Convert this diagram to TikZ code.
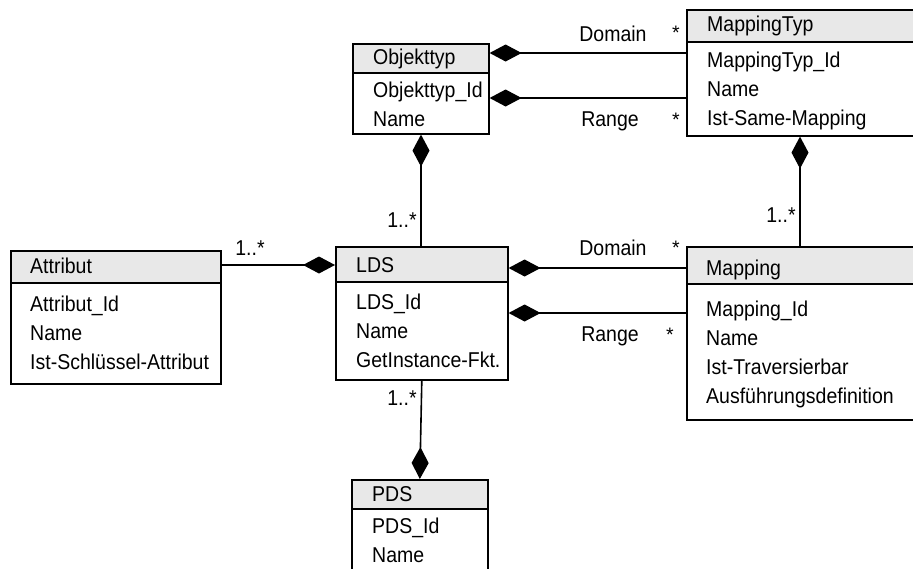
\documentclass[tikz,border=0pt]{standalone}
\usepackage{fontspec}
\usepackage{graphicx}
\setmainfont{Liberation Sans}
\usetikzlibrary{arrows.meta,calc}
\newcommand\tall[1]{\scalebox{1}[1.1]{#1}}
\begin{document}
\begin{tikzpicture}[x=1pt,y=-1pt,
  txt/.style={font=\fontsize{19.5}{22}\selectfont, inner sep=0pt, anchor=base west},
  lbl/.style={font=\fontsize{19.5}{22}\selectfont, inner sep=0pt},
  cls/.style={draw, line width=1.6pt, anchor=north west, inner sep=0pt},
  hdr/.style={fill=black!9},
  link/.style={line width=1.6pt},
  comp/.style={link, -{Diamond[length=32pt,width=17pt]}}
]
\path[use as bounding box, clip] (0,0) rectangle (913,568);
\fill[white] (0,0) rectangle (913,568);

% class box: header fill, outline, header divider
\newcommand\classbox[6]{% name, x, y, w, h, header height
  \fill[hdr] (#2,#3) rectangle ++(#4,#6);
  \node[cls, minimum width=#4pt, minimum height=#5pt] (#1) at (#2,#3) {};
  \draw[line width=1.6pt] (#2,#3+#6) -- ++(#4,0);
}

\classbox{obj}{352}{43}{136}{90}{30}
\classbox{mtyp}{686}{9}{240}{126}{33}
\classbox{attr}{10}{250}{210}{133}{33}
\classbox{lds}{335}{246}{172}{133}{36}
\classbox{map}{686}{246}{240}{173}{38}
\classbox{pds}{351}{479}{136}{110}{30}

% class texts
\node[txt] (objT) at (373,64) {\tall{Objekttyp}};
\node[txt] (objA) at (373,97) {\tall{Objekttyp\_Id}};
\node[txt] (objB) at (373,126) {\tall{Name}};

\node[txt] (mtypT) at (707,31) {\tall{MappingTyp}};
\node[txt] (mtypA) at (707,67) {\tall{MappingTyp\_Id}};
\node[txt] (mtypB) at (707,96) {\tall{Name}};
\node[txt] (mtypC) at (707,125) {\tall{Ist-Same-Mapping}};

\node[txt] (attrT) at (30,273) {\tall{Attribut}};
\node[txt] (attrA) at (30,311) {\tall{Attribut\_Id}};
\node[txt] (attrB) at (30,340) {\tall{Name}};
\node[txt] (attrC) at (30,369) {\tall{Ist-Schlüssel-Attribut}};

\node[txt] (ldsT) at (356,272) {\tall{LDS}};
\node[txt] (ldsA) at (356,309) {\tall{LDS\_Id}};
\node[txt] (ldsB) at (356,338) {\tall{Name}};
\node[txt] (ldsC) at (356,367) {\tall{GetInstance-Fkt.}};

\node[txt] (mapT) at (706,275) {\tall{Mapping}};
\node[txt] (mapA) at (706,316) {\tall{Mapping\_Id}};
\node[txt] (mapB) at (706,345) {\tall{Name}};
\node[txt] (mapC) at (706,374) {\tall{Ist-Traversierbar}};
\node[txt] (mapD) at (706,403) {\tall{Ausführungsdefinition}};

\node[txt] (pdsT) at (372,501) {\tall{PDS}};
\node[txt] (pdsA) at (372,533) {\tall{PDS\_Id}};
\node[txt] (pdsB) at (372,562) {\tall{Name}};

% compositions
\draw[comp] (mtyp.west |- 0,53) -- (obj.east |- 0,53);
\draw[comp] (mtyp.west |- 0,98) -- (obj.east |- 0,98);
\draw[comp] (lds.north -| 421,0) -- (obj.south -| 421,0);
\draw[comp] (map.north -| 800,0) -- (mtyp.south -| 800,0);
\draw[comp] (attr.east |- 0,265) -- (lds.west |- 0,265);
\draw[comp] (map.west |- 0,268) -- (lds.east |- 0,268);
\draw[comp] (map.west |- 0,313) -- (lds.east |- 0,313);
\draw[comp] (lds.south) -- (pds.north);

% role names and multiplicities
\node[lbl] (d1) at (613,34) {\tall{Domain}};
\node[lbl] (s1) at (676,33) {*};
\node[lbl] (r1) at (610,121) {\tall{Range}};
\node[lbl] (s2) at (676,120) {*};
\node[lbl] (m1) at (402,220) {\tall{1..*}};
\node[lbl] (m2) at (781,215) {\tall{1..*}};
\node[lbl] (m3) at (250,248) {\tall{1..*}};
\node[lbl] (d2) at (613,248) {\tall{Domain}};
\node[lbl] (s3) at (676,248) {*};
\node[lbl] (r2) at (610,336) {\tall{Range}};
\node[lbl] (s4) at (670,335) {*};
\node[lbl] (m4) at (402,398) {\tall{1..*}};
\end{tikzpicture}
\end{document}
